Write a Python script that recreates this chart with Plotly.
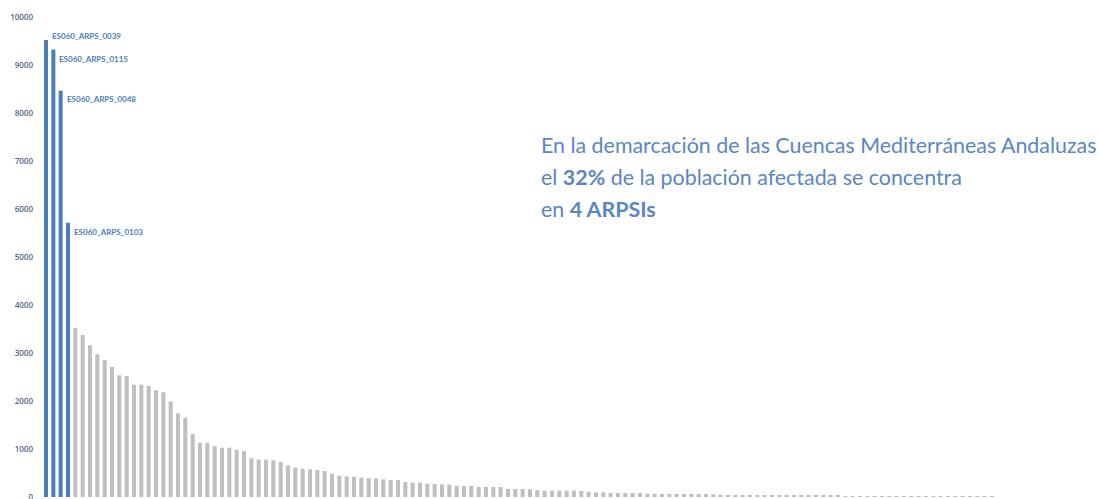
import plotly.graph_objects as go

# Población afectada por ARPSI, ordenada de mayor a menor
valores = [
    9520, 9325, 8465, 5715,
    3521, 3375, 3160, 2972, 2854, 2708, 2535, 2520, 2340, 2340, 2312, 2222,
    2181, 1993, 1743, 1652, 1310, 1132, 1132, 1060, 1028, 1028, 986, 955,
    806, 782, 778, 764, 733, 660, 611, 590, 576, 563, 542, 486,
    444, 430, 420, 403, 389, 389, 368, 354, 354, 312, 299, 299, 278, 271,
    264, 257, 236, 229, 229, 208, 208, 208, 208, 167, 167, 165, 160, 146,
    132, 132, 132, 132, 132, 125, 111, 97, 97, 83, 83, 83, 83, 83, 69, 69,
    62, 62, 62, 62, 62, 62, 62, 55, 48, 42, 42, 42, 35, 35, 35, 35, 35, 35,
    35, 28, 28, 28, 28, 28, 21,
    14, 14, 14, 14, 14, 14, 14, 14, 14, 14, 14, 14, 14, 14, 14, 14, 14, 14,
    14, 14, 14,
]
destacadas = ["ES060_ARPS_0039", "ES060_ARPS_0115", "ES060_ARPS_0048", "ES060_ARPS_0103"]
ticks_y = [0, 1000, 2000, 3000, 4000, 5000, 6000, 7000, 8000, 9000, 10000]

AZUL = "#4a7ebb"
GRIS = "#bfbfbf"
n_dest = len(destacadas)
posiciones = list(range(len(valores)))
colores = [AZUL if i < n_dest else GRIS for i in posiciones]

fig = go.Figure(go.Bar(
    x=posiciones, y=valores, marker=dict(color=colores, line=dict(width=0)),
    hoverinfo="y",
))

# Etiquetas de las ARPSIs destacadas, a la derecha de cada barra
desplaz_y = [4, -10, -8, -9]
for i, nombre in enumerate(destacadas):
    fig.add_annotation(
        x=posiciones[i], y=valores[i], text=f"<b>{nombre}</b>", showarrow=False,
        xanchor="left", yanchor="middle", xshift=4, yshift=desplaz_y[i],
        font=dict(family="Lato", size=8, color=AZUL),
    )

TXT = "#5a86c2"
lineas = [
    "En la demarcación de las Cuencas Mediterráneas Andaluzas",
    "el <b>32%</b> de la población afectada se concentra",
    "en <b>4 ARPSIs</b>",
]
for k, linea in enumerate(lineas):
    fig.add_annotation(
        xref="paper", yref="paper", x=0.4715, y=(497 - 145 - 32 * k) / 480,
        text=linea, showarrow=False, xanchor="left", yanchor="middle",
        font=dict(family="Lato", size=21.4, color=TXT),
    )

fig.update_layout(
    width=1099, height=499,
    margin=dict(l=40, r=0, t=17, b=2, autoexpand=False),
    paper_bgcolor="white", plot_bgcolor="white",
    bargap=0.45, showlegend=False,
    xaxis=dict(range=[-0.82, 143.6], showticklabels=False, showgrid=False,
               zeroline=False, showline=False, ticks="", automargin=False),
    yaxis=dict(range=[0, 10000], tickvals=ticks_y,
               ticktext=[str(t) for t in ticks_y], showgrid=False,
               zeroline=False, showline=False, ticks="", automargin=False,
               ticklabelstandoff=6, ticklabeloverflow="allow",
               tickfont=dict(family="Open Sans", size=8, color="#55657a",
                             weight=600)),
)

fig.write_html("out.html")
